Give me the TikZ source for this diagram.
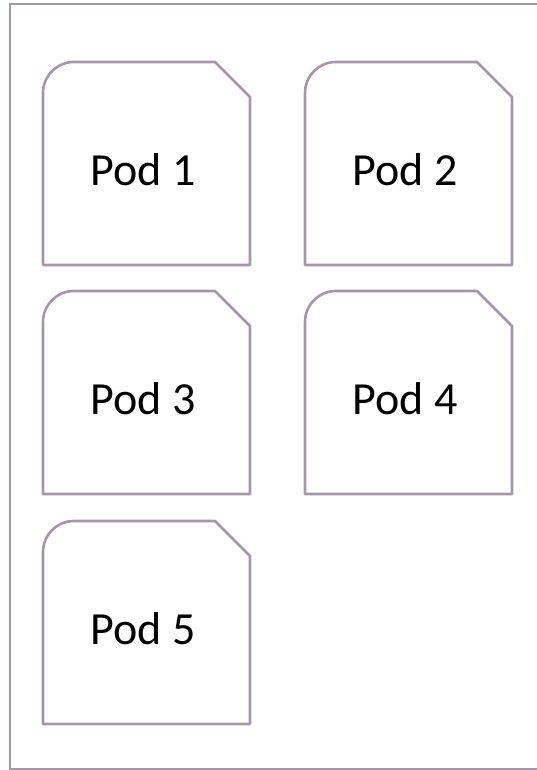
\documentclass[tikz,border=0pt]{standalone}
\usepackage{fontspec}
\setmainfont{Carlito}
\usepackage{xcolor}
\usepackage{tikz}
\usetikzlibrary{positioning, calc}
\definecolor{podframe}{RGB}{163, 151, 168}

\begin{document}
\begin{tikzpicture}[x=1pt, y=1pt,
    podline/.style={draw=podframe, line width=2.6pt, line join=round, fill=white},
    podlabel/.style={font=\fontsize{46}{54}\selectfont, text=black, anchor=base, inner sep=0pt}]
    \useasboundingbox (0,0) rectangle (536,770);

    % Outer frame
    \draw[draw=podframe, line width=2.6pt] (10,1) rectangle (560,766);

    % Pods
    \foreach \n/\px/\py in {1/43/708, 2/305/708, 3/43/479, 4/305/479, 5/43/249} {
        \draw[podline] (\px,\py-203) -- (\px,\py-31) arc[start angle=180, end angle=90, radius=31]
            -- (\px+172,\py) -- (\px+207,\py-35) -- (\px+207,\py-203) -- cycle;
        \node[podlabel] (pod\n) at (\px+100,\py-124) {Pod \n};
    }
\end{tikzpicture}
\end{document}
